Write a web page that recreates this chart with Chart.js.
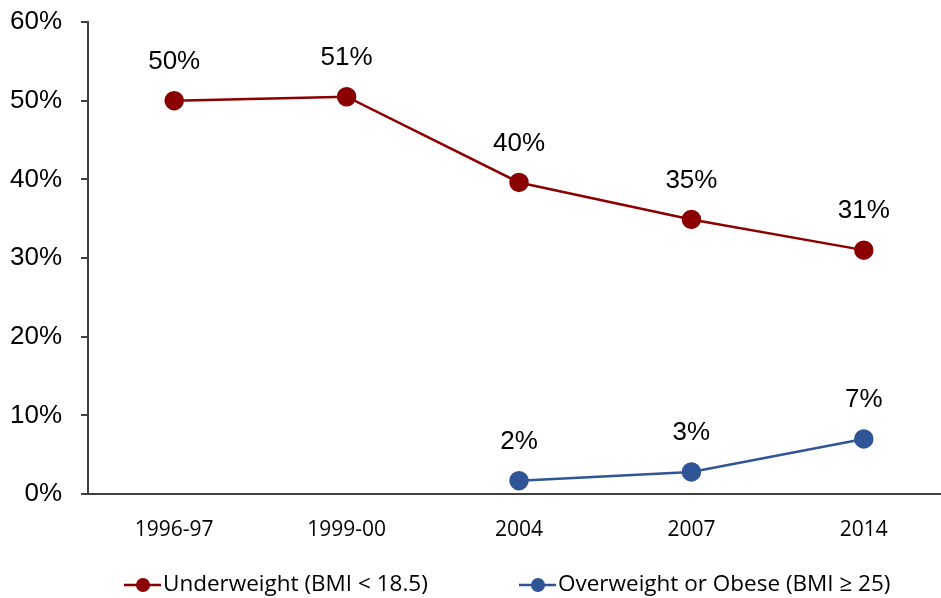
<!doctype html>
<html>
<head>
<meta charset="utf-8">
<title>Underweight and overweight</title>
<script src="https://cdn.jsdelivr.net/npm/chart.js"></script>
<style>
  html, body { margin: 0; background: #fff; overflow: hidden; width: 1000px; }
  canvas { display: block; }
</style>
</head>
<body>
<canvas id="bmiChart" width="961" height="598"></canvas>
<script>
// data
const years = ['1996-97', '1999-00', '2004', '2007', '2014'];
const underweight = [50.0, 50.5, 39.6, 34.9, 31.0];
const overweight = [null, null, 1.7, 2.8, 7.0];
const yTicks = [0, 10, 20, 30, 40, 50, 60];

const red = '#8b0000';
const blue = '#2f5597';

// labels above each point
const pointLabels = {
  id: 'pointLabels',
  afterDatasetsDraw(chart) {
    const ctx = chart.ctx;
    ctx.save();
    ctx.font = '26px "Liberation Sans", Arial, sans-serif';
    ctx.fillStyle = '#000';
    ctx.textAlign = 'center';
    ctx.textBaseline = 'middle';
    chart.data.datasets.forEach((ds, i) => {
      chart.getDatasetMeta(i).data.forEach((pt, j) => {
        if (ds.data[j] == null) return;
        ctx.fillText(Math.round(ds.data[j]) + '%', pt.x, pt.y - 39);
      });
    });
    ctx.restore();
  }
};

// line + dot legend at the bottom
const bottomLegend = {
  id: 'bottomLegend',
  afterDraw(chart) {
    const ctx = chart.ctx;
    const starts = [124, 519];
    const y = 585;
    ctx.save();
    ctx.font = '22.5px "Open Sans", sans-serif';
    ctx.textBaseline = 'middle';
    chart.data.datasets.forEach((ds, i) => {
      const x = starts[i];
      ctx.strokeStyle = ds.borderColor;
      ctx.lineWidth = 2.5;
      ctx.beginPath();
      ctx.moveTo(x, y);
      ctx.lineTo(x + 37, y);
      ctx.stroke();
      ctx.fillStyle = ds.borderColor;
      ctx.beginPath();
      ctx.arc(x + 19, y, 7, 0, Math.PI * 2);
      ctx.fill();
      ctx.fillStyle = '#000';
      ctx.fillText(ds.label, x + 39, y);
    });
    ctx.restore();
  }
};

new Chart(document.getElementById('bmiChart'), {
  type: 'line',
  data: {
    labels: years,
    datasets: [
      {
        label: 'Underweight (BMI < 18.5)',
        data: underweight,
        borderColor: red,
        backgroundColor: red,
        borderWidth: 2.5,
        pointRadius: 8.5,
        pointHoverRadius: 8.5,
        tension: 0
      },
      {
        label: 'Overweight or Obese (BMI ≥ 25)',
        data: overweight,
        borderColor: blue,
        backgroundColor: blue,
        borderWidth: 2.5,
        pointRadius: 8.5,
        pointHoverRadius: 8.5,
        tension: 0
      }
    ]
  },
  options: {
    responsive: false,
    animation: false,
    layout: { padding: { top: 22, right: 2, bottom: 0, left: 0 } },
    plugins: {
      legend: { display: false },
      tooltip: { enabled: false }
    },
    scales: {
      x: {
        offset: true,
        grid: { display: false, drawTicks: false },
        border: { display: true, color: '#404040', width: 2 },
        ticks: {
          color: '#000',
          font: { family: '"Open Sans", sans-serif', size: 21 },
          padding: 23,
          maxRotation: 0
        },
        afterFit(scale) {
          scale.height = 104;
          scale.paddingLeft = 0;
          scale.paddingRight = 0;
        }
      },
      y: {
        min: 0,
        max: 60,
        afterBuildTicks(scale) { scale.ticks = yTicks.map(v => ({ value: v })); },
        grid: { drawOnChartArea: false, drawTicks: true, tickLength: 7, tickColor: '#404040', lineWidth: 2 },
        border: { display: true, color: '#404040', width: 2 },
        ticks: {
          color: '#000',
          font: { family: '"Liberation Sans", Arial, sans-serif', size: 26 },
          padding: 19,
          callback: v => v + '%'
        },
        afterFit(scale) {
          scale.width = 88;
          scale.paddingTop = 0;
          scale.paddingBottom = 0;
        }
      }
    }
  },
  plugins: [pointLabels, bottomLegend]
});
</script>
</body>
</html>
